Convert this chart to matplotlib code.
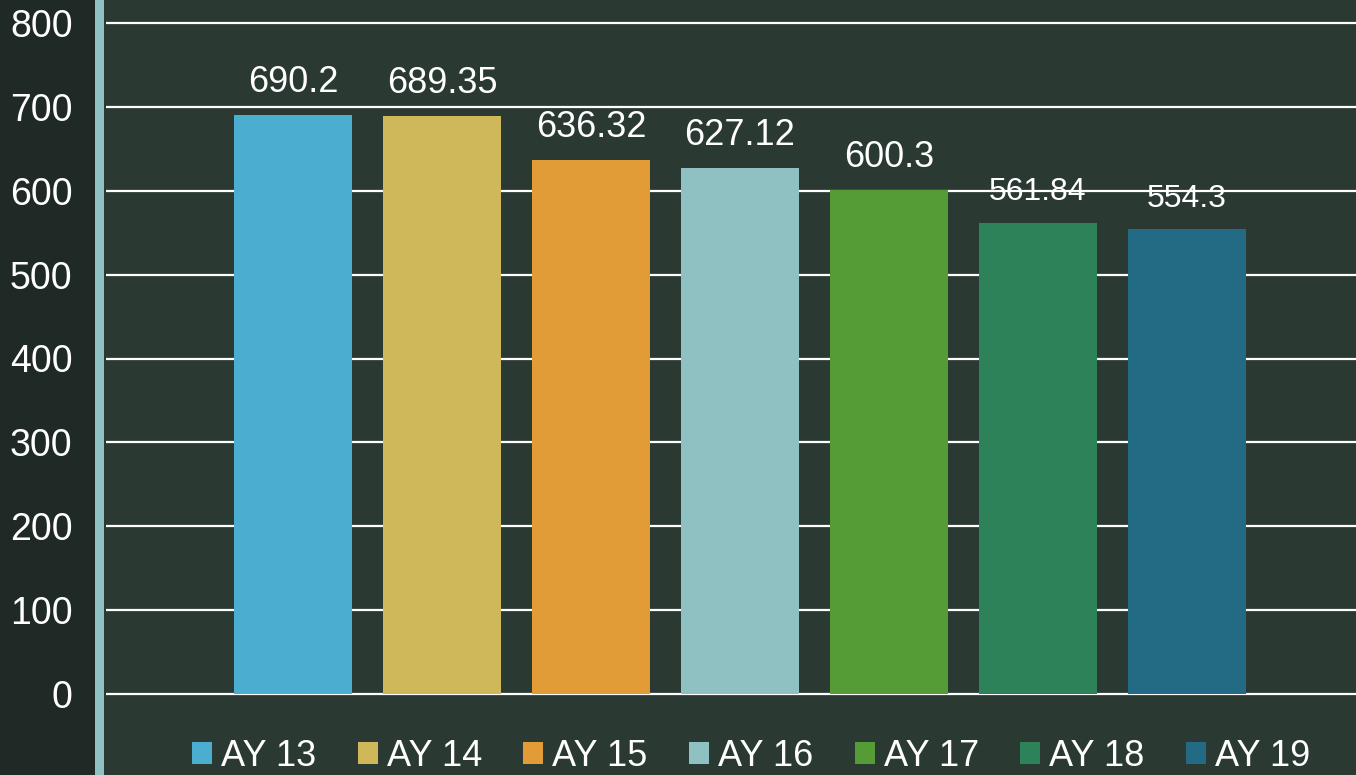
import matplotlib.pyplot as plt
from matplotlib.patches import Rectangle, Patch

plt.rcParams['font.family'] = ['Liberation Sans', 'DejaVu Sans']

# data
years = ['AY 13', 'AY 14', 'AY 15', 'AY 16', 'AY 17', 'AY 18', 'AY 19']
values = [690.2, 689.35, 636.32, 627.12, 600.3, 561.84, 554.3]
colors = ['#4badcf', '#cfb85a', '#e19c37', '#8fc0c2', '#559c37', '#2e8259', '#236b85']
label_sizes = [26, 26, 26, 26, 26, 23, 23]
yticks = [0, 100, 200, 300, 400, 500, 600, 700, 800]

W, H = 1356, 775
fig = plt.figure(figsize=(W / 100, H / 100), dpi=100)
fig.patch.set_facecolor('#2b3933')

# dark left panel + teal strip (behind the axes)
fig.patches.append(Rectangle((0, 0), 95 / W, 1, transform=fig.transFigure,
                             facecolor='#1f2a26', edgecolor='none', zorder=-2))
fig.patches.append(Rectangle((95 / W, 0), 9 / W, 1, transform=fig.transFigure,
                             facecolor='#8fc1c3', edgecolor='none', zorder=-2))

ax = fig.add_axes([106 / W, 0, 1 - 106 / W, 1])
ax.set_facecolor('none')

px_per_unit = (694 - 23) / 800
ax.set_ylim(-(H - 694) / px_per_unit, 800 + 23 / px_per_unit)
ax.set_xlim((106 - 293) / 149, (1356 - 293) / 149)

for y in yticks:
    ax.axhline(y, color='white', lw=1.6, zorder=1)

x = range(len(years))
bars = ax.bar(x, values, width=118 / 149, color=colors, zorder=2)

for xi, v, fs in zip(x, values, label_sizes):
    ax.annotate(f'{v:g}', (xi, v), xytext=(0, 11), textcoords='offset points',
                ha='center', va='bottom', color='white', fontsize=fs, zorder=3)

ax.set_yticks(yticks)
ax.set_yticklabels([str(t) for t in yticks])
ax.tick_params(axis='y', length=0, pad=24, labelsize=27, labelcolor='white')
ax.set_xticks([])
for s in ax.spines.values():
    s.set_visible(False)

handles = [Patch(facecolor=c, edgecolor='none') for c in colors]
fig.legend(handles, years, loc='center', bbox_to_anchor=(0.554, 0.024), ncol=7,
           frameon=False, fontsize=26, labelcolor='white',
           handlelength=0.55, handleheight=0.55, handletextpad=0.25,
           columnspacing=1.15)

fig.savefig('out.png', dpi=100, facecolor=fig.get_facecolor())
